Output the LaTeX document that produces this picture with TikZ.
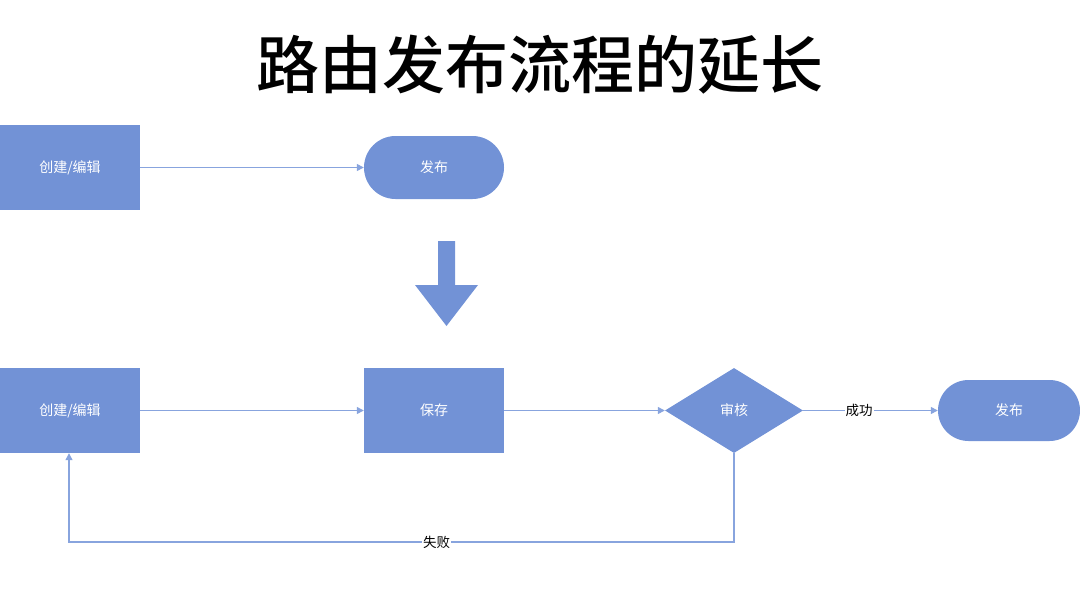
\documentclass[tikz,border=0pt]{standalone}
\usepackage{fontspec}
\newfontfamily\cjk{Noto Sans CJK SC}
\newfontfamily\cjkb{Noto Sans CJK SC Medium}
\usetikzlibrary{shapes.geometric,shapes.misc,arrows.meta}
\definecolor{boxblue}{RGB}{114,146,214}
\definecolor{lineblue}{RGB}{136,164,222}
\tikzset{
  x=1pt,y=-1pt,
  nodetext/.style={text=white,font=\cjk\fontsize{14}{16}\selectfont},
  proc/.style={draw=none,fill=boxblue,minimum width=140pt,minimum height=85pt,inner sep=0pt,nodetext},
  term/.style={draw=none,fill=boxblue,rounded rectangle,minimum width=140pt,minimum height=63pt,inner sep=0pt,nodetext},
  dec/.style={draw=none,fill=boxblue,diamond,aspect=1.62,minimum width=138pt,minimum height=85pt,inner sep=0pt,nodetext},
  conn/.style={draw=lineblue,line width=1.3pt,-{Triangle[length=7pt,width=7pt]}},
  lbl/.style={fill=white,inner sep=1pt,font=\cjk\fontsize{13.5}{15}\selectfont,text=black}
}
\begin{document}
\begin{tikzpicture}
\useasboundingbox (0,0) rectangle (1080,605);
\node[font=\cjkb\fontsize{63}{69}\selectfont] (title) at (540,65) {路由发布流程的延长};
% top row
\node[proc] (a1) at (70,167.5) {创建/编辑};
\node[term] (p1) at (434,167.5) {发布};
\draw[conn] (a1) -- (p1);
% big arrow
\fill[boxblue] (438,241) -- (455,241) -- (455,285) -- (478,285) -- (446.5,326) -- (415,285) -- (438,285) -- cycle;
% bottom row
\node[proc] (a2) at (70,410.5) {创建/编辑};
\node[proc] (s) at (434,410.5) {保存};
\node[dec] (d) at (734,410.5) {审核};
\node[term,minimum width=142pt,minimum height=61pt] (p2) at (1009,410.5) {发布};
\draw[conn] (a2) -- (s);
\draw[conn] (s) -- (d);
\draw[conn] (d) -- node[lbl,pos=0.415] {成功} (p2);
\coordinate (c1) at (734,542);
\coordinate (c2) at (69,542);
\draw[conn] (d.south) -- (c1) -- node[lbl,pos=0.447] {失败} (c2) -- (a2.south -| c2);
\end{tikzpicture}
\end{document}
